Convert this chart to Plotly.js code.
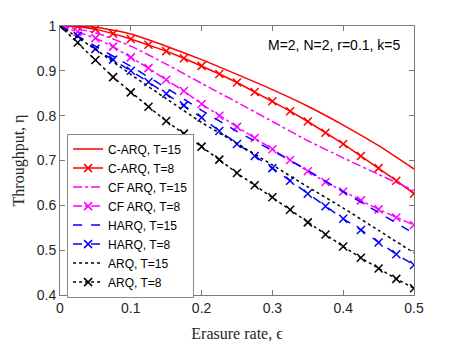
<!DOCTYPE html>
<html>
<head>
<meta charset="utf-8">
<script src="https://cdn.plot.ly/plotly-3.0.1.min.js"></script>
<style>
  html, body { margin: 0; padding: 0; background: #fff; }
  #chart { width: 459px; height: 344px; }
</style>
</head>
<body>
<div id="chart"></div>
<script>
// Erasure rate grids
const epsFine = [0, 0.025, 0.05, 0.075, 0.1, 0.125, 0.15, 0.175, 0.2, 0.225, 0.25,
                 0.275, 0.3, 0.325, 0.35, 0.375, 0.4, 0.425, 0.45, 0.475, 0.5];
const epsCoarse = [0, 0.05, 0.1, 0.15, 0.2, 0.25, 0.3, 0.35, 0.4, 0.45, 0.5];

// T=15 curves (no markers)
const carq15 = [1, 0.997, 0.982, 0.955, 0.925, 0.892, 0.858, 0.821, 0.779, 0.733, 0.681];
const cfarq15 = [1, 0.985, 0.955, 0.915, 0.872, 0.830, 0.787, 0.744, 0.706, 0.669, 0.633];
const harq15 = [1, 0.955, 0.910, 0.862, 0.812, 0.765, 0.722, 0.678, 0.630, 0.584, 0.537];
const arq15 = [1, 0.948, 0.892, 0.838, 0.785, 0.738, 0.690, 0.641, 0.594, 0.544, 0.494];

// T=8 curves (with markers)
const carq8 = [1, 0.999, 0.993, 0.983, 0.971, 0.958, 0.944, 0.928, 0.911, 0.893, 0.874,
               0.853, 0.832, 0.810, 0.787, 0.762, 0.737, 0.710, 0.683, 0.655, 0.626];
const cfarq8 = [1, 0.987, 0.973, 0.954, 0.930, 0.906, 0.880, 0.855, 0.826, 0.800, 0.775,
                0.750, 0.725, 0.701, 0.676, 0.652, 0.631, 0.611, 0.591, 0.573, 0.556];
const harq8 = [1, 0.978, 0.949, 0.925, 0.900, 0.875, 0.849, 0.823, 0.796, 0.766, 0.737,
               0.710, 0.683, 0.655, 0.626, 0.598, 0.570, 0.545, 0.517, 0.491, 0.467];
const arq8 = [1, 0.963, 0.924, 0.886, 0.852, 0.820, 0.788, 0.760, 0.731, 0.702, 0.672,
              0.645, 0.618, 0.590, 0.562, 0.535, 0.508, 0.483, 0.459, 0.436, 0.415];

const xTicks = [0, 0.1, 0.2, 0.3, 0.4, 0.5];
const yTicks = [0.4, 0.5, 0.6, 0.7, 0.8, 0.9, 1];

function plain(name, y, color, dash) {
  return {
    x: epsCoarse, y: y, name: name, type: 'scatter', mode: 'lines',
    line: {color: color, width: 1.5, dash: dash, shape: 'spline', smoothing: 0.6}
  };
}

function marked(name, y, color, dash) {
  return {
    x: epsFine, y: y, name: name, type: 'scatter', mode: 'lines+markers',
    line: {color: color, width: 1.5, dash: dash},
    marker: {symbol: 'x-thin', size: 8, color: color, line: {color: color, width: 1.5}}
  };
}

const data = [
  plain('C-ARQ, T=15', carq15, '#ff0000', 'solid'),
  marked('C-ARQ, T=8', carq8, '#ff0000', 'solid'),
  plain('CF ARQ, T=15', cfarq15, '#ff00ff', 'dashdot'),
  marked('CF ARQ, T=8', cfarq8, '#ff00ff', 'dashdot'),
  plain('HARQ, T=15', harq15, '#0000ff', 'dash'),
  marked('HARQ, T=8', harq8, '#0000ff', 'dash'),
  plain('ARQ, T=15', arq15, '#000000', 'dot'),
  marked('ARQ, T=8', arq8, '#000000', 'dot')
];

const axisCommon = {
  showgrid: false, zeroline: false,
  showline: true, mirror: 'ticks', linecolor: '#7a7a7a', linewidth: 1,
  ticks: 'inside', ticklen: 5, tickcolor: '#7a7a7a',
  tickfont: {family: 'Liberation Sans, Arial, sans-serif', size: 14, color: '#262626'}
};

const layout = {
  width: 459, height: 344,
  margin: {l: 60, r: 45, t: 26, b: 49},
  paper_bgcolor: '#fff', plot_bgcolor: '#fff',
  showlegend: true,
  xaxis: Object.assign({}, axisCommon, {
    range: [0, 0.5], tickvals: xTicks, ticktext: xTicks.map(String),
    title: {text: 'Erasure rate, ϵ', standoff: 13,
            font: {family: 'Liberation Serif, Times New Roman, serif', size: 16, color: '#262626'}}
  }),
  yaxis: Object.assign({}, axisCommon, {
    range: [0.4, 1], tickvals: yTicks, ticktext: yTicks.map(String),
    title: {text: 'Throughput, η', standoff: 8,
            font: {family: 'Liberation Serif, Times New Roman, serif', size: 16, color: '#262626'}}
  }),
  legend: {
    x: 0.02, y: 0.6, xanchor: 'left', yanchor: 'top',
    bgcolor: '#fff', bordercolor: '#8a8a8a', borderwidth: 1,
    font: {family: 'Liberation Sans, Arial, sans-serif', size: 12, color: '#000'},
    tracegroupgap: 0, itemwidth: 30
  },
  annotations: [{
    xref: 'paper', yref: 'paper', x: 0.97, y: 0.93,
    xanchor: 'right', yanchor: 'middle', showarrow: false,
    text: 'M=2, N=2, r=0.1, k=5',
    font: {family: 'Liberation Sans, Arial, sans-serif', size: 14, color: '#000'}
  }]
};

Plotly.newPlot('chart', data, layout, {displayModeBar: false, staticPlot: true});
</script>
</body>
</html>
